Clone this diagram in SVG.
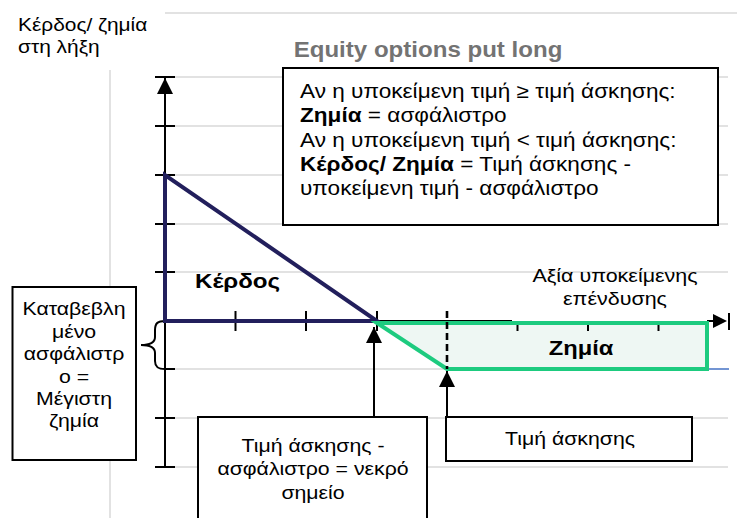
<svg xmlns="http://www.w3.org/2000/svg" width="737" height="518" viewBox="0 0 737 518">
<defs>
<style>
.t{font-family:"Liberation Sans",Arial,sans-serif;font-size:19px;fill:#000}
.b{font-weight:bold}
.c{text-anchor:middle}
.grid{stroke:#d9d9d9;stroke-width:1.5;fill:none}
.ax{stroke:#000;stroke-width:2;fill:none}
.box{fill:#fff;stroke:#000;stroke-width:2}
</style>
<marker id="ah" viewBox="0 0 16 16" refX="16" refY="8" markerWidth="16" markerHeight="16" markerUnits="userSpaceOnUse" orient="auto">
<path d="M0,0 L16,8 L0,16 Z" fill="#000"/>
</marker>
</defs>
<rect width="737" height="518" fill="#fff"/>
<g id="grid" class="grid">
<line x1="165" y1="13" x2="737" y2="13"/>
<line x1="110" y1="70" x2="110" y2="518"/>
<line x1="175" y1="77" x2="728" y2="77"/>
<line x1="175" y1="126" x2="728" y2="126"/>
<line x1="175" y1="175" x2="728" y2="175"/>
<line x1="175" y1="224" x2="728" y2="224"/>
<line x1="175" y1="272" x2="728" y2="272"/>
<line x1="175" y1="369" x2="707" y2="369"/>
<line x1="175" y1="418" x2="728" y2="418"/>
<line x1="175" y1="467" x2="728" y2="467"/>
</g>
<line x1="707" y1="369" x2="729" y2="369" stroke="#4472c4" stroke-width="1.5"/>
<g id="axes">
<line class="ax" x1="165" y1="467" x2="165" y2="78" marker-end="url(#ah)"/>
<g class="ax">
<line x1="155" y1="77" x2="175" y2="77"/>
<line x1="155" y1="126" x2="175" y2="126"/>
<line x1="155" y1="175" x2="175" y2="175"/>
<line x1="155" y1="224" x2="175" y2="224"/>
<line x1="155" y1="272" x2="175" y2="272"/>
<line x1="165" y1="369" x2="175" y2="369"/>
<line x1="155" y1="418" x2="175" y2="418"/>
<line x1="155" y1="467" x2="175" y2="467"/>
<line x1="165" y1="321" x2="512" y2="321"/>
<line x1="235.5" y1="311" x2="235.5" y2="331"/>
<line x1="306" y1="311" x2="306" y2="331"/>
<line x1="377" y1="311" x2="377" y2="331"/>
<line x1="707" y1="321" x2="713" y2="321"/>
<line x1="729" y1="313" x2="729" y2="330"/>
</g>
<path d="M713,314 L727,321 L713,328 Z" fill="#000"/>
<path class="ax" d="M165,321 C158,321 155,323 155,330 L155,337 C155,342 151,345 141,345 C151,345 155,348 155,353 L155,361 C155,367 158,369 165,369"/>
</g>
<g id="gain">
<path d="M165,321 L165,175 L377,321 Z" fill="none" stroke="#221f5c" stroke-width="4" stroke-linejoin="miter"/>
</g>
<g id="loss">
<path d="M377,323 L707,323 L707,369 L447,369 Z" fill="#eef7f3" stroke="#1dcb7f" stroke-width="4"/>
<g class="ax">
<line x1="517.5" y1="325" x2="517.5" y2="331"/>
<line x1="588" y1="325" x2="588" y2="331"/>
<line x1="658.5" y1="325" x2="658.5" y2="331"/>
<line x1="447" y1="311" x2="447" y2="369" stroke-dasharray="7,4" stroke-width="2.6"/>
</g>
</g>
<g id="connectors">
<line class="ax" x1="374" y1="417" x2="374" y2="327" marker-end="url(#ah)"/>
<line class="ax" x1="447" y1="417" x2="447" y2="371" marker-end="url(#ah)"/>
</g>
<g id="yLabel">
<text class="t" transform="translate(18,31) scale(1.1,1)">Κέρδος/ ζημία</text>
<text class="t" transform="translate(18,53) scale(1.1,1)">στη λήξη</text>
</g>
<g id="title">
<text class="t b c" transform="translate(428,57) scale(1.12,1)" style="fill:#737373;font-size:21.5px">Equity options put long</text>
</g>
<g id="infoBox">
<rect class="box" x="283" y="68" width="435" height="157"/>
<text class="t" style="font-size:20px" transform="translate(300,98) scale(1.13,1)">Αν η υποκείμενη τιμή ≥ τιμή άσκησης:</text>
<text class="t" style="font-size:20px" transform="translate(300,122) scale(1.13,1)"><tspan class="b">Ζημία</tspan> = ασφάλιστρο</text>
<text class="t" style="font-size:20px" transform="translate(300,147) scale(1.13,1)">Αν η υποκείμενη τιμή &lt; τιμή άσκησης:</text>
<text class="t" style="font-size:20px" transform="translate(300,171) scale(1.13,1)"><tspan class="b">Κέρδος/ Ζημία</tspan> = Τιμή άσκησης -</text>
<text class="t" style="font-size:20px" transform="translate(300,195) scale(1.13,1)">υποκείμενη τιμή - ασφάλιστρο</text>
</g>
<g id="gainLabel">
<text class="t b" style="font-size:21px" transform="translate(195,288) scale(1.15,1)">Κέρδος</text>
</g>
<g id="lossLabel">
<text class="t b c" style="font-size:21px" transform="translate(581,355) scale(1.13,1)">Ζημία</text>
</g>
<g id="xLabel">
<text class="t c" transform="translate(615,282) scale(1.13,1)">Αξία υποκείμενης</text>
<text class="t c" transform="translate(615,305) scale(1.13,1)">επένδυσης</text>
</g>
<g id="premiumBox">
<rect class="box" x="12.5" y="287" width="123.5" height="173"/>
<text class="t c" transform="translate(74,315) scale(1.12,1)">Καταβεβλη</text>
<text class="t c" transform="translate(74,338) scale(1.12,1)">μένο</text>
<text class="t c" transform="translate(74,360) scale(1.12,1)">ασφάλιστρ</text>
<text class="t c" transform="translate(74,383) scale(1.12,1)">ο =</text>
<text class="t c" transform="translate(74,405) scale(1.12,1)">Μέγιστη</text>
<text class="t c" transform="translate(74,427) scale(1.12,1)">ζημία</text>
</g>
<g id="breakEvenBox">
<rect class="box" x="198" y="417" width="229" height="105"/>
<text class="t c" transform="translate(313,452) scale(1.12,1)">Τιμή άσκησης -</text>
<text class="t c" transform="translate(313,475) scale(1.12,1)">ασφάλιστρο = νεκρό</text>
<text class="t c" transform="translate(313,499) scale(1.12,1)">σημείο</text>
</g>
<g id="strikeBox">
<rect class="box" x="446" y="417" width="246" height="44"/>
<text class="t c" transform="translate(570,445) scale(1.12,1)">Τιμή άσκησης</text>
</g>
</svg>
